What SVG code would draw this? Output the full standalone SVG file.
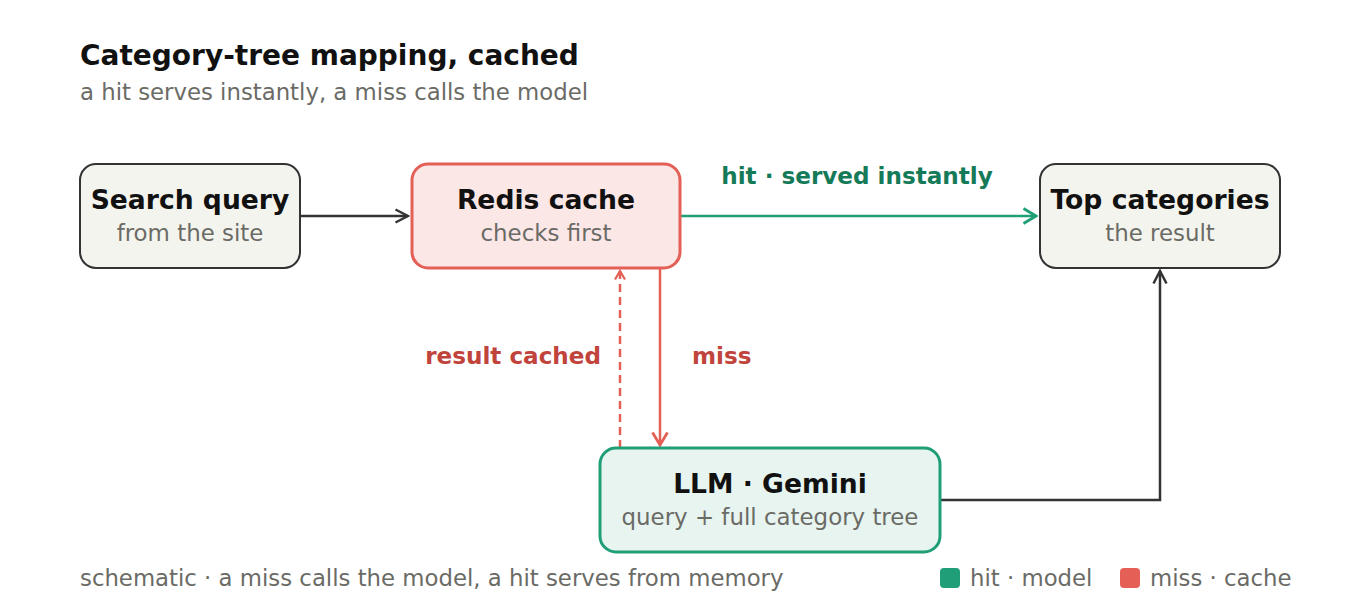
<svg xmlns="http://www.w3.org/2000/svg" width="1360" height="616" viewBox="0 0 1360 616">
<defs>
<style>
text{font-family:"DejaVu Sans","Noto Sans",sans-serif}
.t{font-size:28px;font-weight:bold;fill:#111}
.st{font-size:22.8px;fill:#6b6b66}
.nt{font-size:26.6px;font-weight:bold;fill:#111;text-anchor:middle}
.ns{font-size:22.9px;fill:#6b6b66;text-anchor:middle}
.el{font-size:23.1px;font-weight:bold}
.ft{font-size:22.8px;fill:#6b6b66}
.plain{fill:#f4f4ee;stroke:#333;stroke-width:2}
.redis{fill:#fbe7e6;stroke:#e45f56;stroke-width:3}
.llm{fill:#e7f4ef;stroke:#1f9e77;stroke-width:3}
.e{fill:none;stroke-width:2.5}
</style>
<marker id="ad" viewBox="0 0 16 16" refX="14" refY="8" markerWidth="16" markerHeight="16" markerUnits="userSpaceOnUse" orient="auto"><path d="M1.5,1.5 L14,8 L1.5,14.5" fill="none" stroke="#333" stroke-width="2.5"/></marker>
<marker id="ag" viewBox="0 0 16 18" refX="14" refY="9" markerWidth="16" markerHeight="18" markerUnits="userSpaceOnUse" orient="auto"><path d="M1.5,1.5 L14,9 L1.5,16.5" fill="none" stroke="#1f9e77" stroke-width="2.8"/></marker>
<marker id="ar" viewBox="0 0 16 18" refX="14" refY="9" markerWidth="16" markerHeight="18" markerUnits="userSpaceOnUse" orient="auto"><path d="M1.5,1.5 L14,9 L1.5,16.5" fill="none" stroke="#e45f56" stroke-width="2.8"/></marker>
<marker id="ar2" viewBox="0 0 12 12" refX="10" refY="6" markerWidth="12" markerHeight="12" markerUnits="userSpaceOnUse" orient="auto"><path d="M1.5,1 L10,6 L1.5,11" fill="none" stroke="#e45f56" stroke-width="2.2"/></marker>
</defs>
<rect width="1360" height="616" fill="#fff"/>
<text class="t" x="80" y="65">Category-tree mapping, cached</text>
<text class="st" x="80" y="100">a hit serves instantly, a miss calls the model</text>
<g id="connectors">
<path class="e" d="M300,216 H408" stroke="#333" marker-end="url(#ad)"/>
<path class="e" d="M680,216 H1036" stroke="#1f9e77" marker-end="url(#ag)"/>
<path class="e" d="M660,268 V445" stroke="#e45f56" marker-end="url(#ar)"/>
<path class="e" d="M620,448 V271" stroke="#e45f56" stroke-width="2.2" stroke-dasharray="8,5" marker-end="url(#ar2)"/>
<path class="e" d="M940,500 H1160 V271" stroke="#333" marker-end="url(#ad)"/>
<text class="el" x="857" y="184" text-anchor="middle" fill="#157a58">hit · served instantly</text>
<text class="el" x="601" y="364" text-anchor="end" fill="#c0443b">result cached</text>
<text class="el" x="692" y="364" fill="#c0443b">miss</text>
</g>
<g id="search">
<rect class="plain" x="80" y="164" width="220" height="104" rx="16"/>
<text class="nt" x="190" y="209">Search query</text>
<text class="ns" x="190" y="241">from the site</text>
</g>
<g id="redis">
<rect class="redis" x="412" y="164" width="268" height="104" rx="16"/>
<text class="nt" x="546" y="209">Redis cache</text>
<text class="ns" x="546" y="241">checks first</text>
</g>
<g id="top">
<rect class="plain" x="1040" y="164" width="240" height="104" rx="16"/>
<text class="nt" x="1160" y="209">Top categories</text>
<text class="ns" x="1160" y="241">the result</text>
</g>
<g id="llm">
<rect class="llm" x="600" y="448" width="340" height="104" rx="16"/>
<text class="nt" x="770" y="493">LLM · Gemini</text>
<text class="ns" x="770" y="525">query + full category tree</text>
</g>
<g id="footer">
<text class="ft" x="80" y="586">schematic · a miss calls the model, a hit serves from memory</text>
<rect x="940" y="568" width="20" height="20" rx="4" fill="#1f9e77"/>
<text class="ft" x="970" y="586">hit · model</text>
<rect x="1120" y="568" width="20" height="20" rx="4" fill="#e45f56"/>
<text class="ft" x="1150" y="586">miss · cache</text>
</g>
</svg>
